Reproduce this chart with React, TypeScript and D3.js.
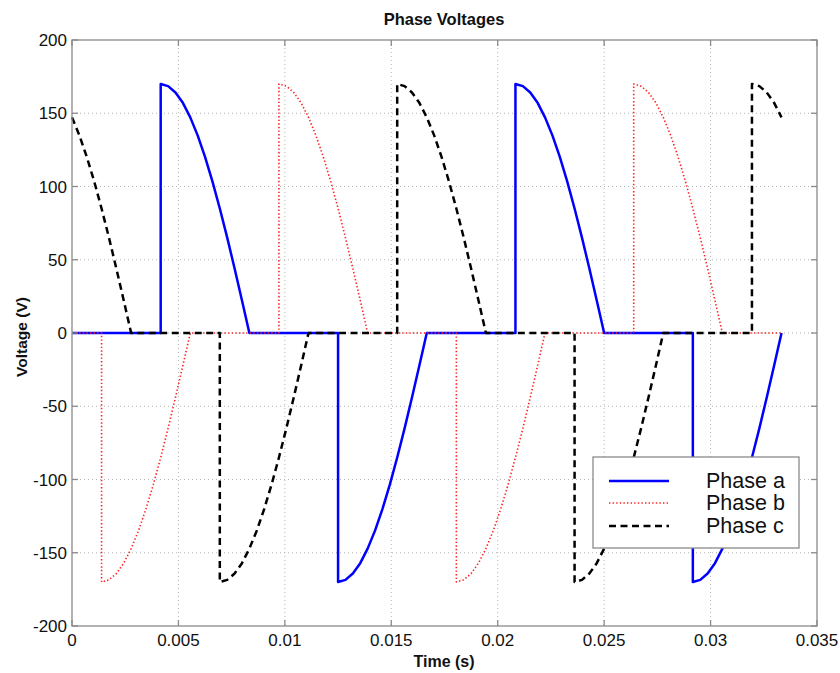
import React from "react";
import * as d3 from "d3";

// ---- data ----
const title = "Phase Voltages";
const xLabel = "Time (s)";
const yLabel = "Voltage (V)";
const xTicks = [0, 0.005, 0.01, 0.015, 0.02, 0.025, 0.03, 0.035];
const xTickLabels = ["0", "0.005", "0.01", "0.015", "0.02", "0.025", "0.03", "0.035"];
const yTicks = [200, 150, 100, 50, 0, -50, -100, -150, -200];
const seriesNames = ["Phase a", "Phase b", "Phase c"];

const phaseA_t = [
  0, 0.004167,
  0.004167, 0.004514, 0.004861, 0.005208, 0.005556, 0.005903, 0.00625, 0.006597, 0.006944, 0.007292, 0.007639, 0.007986, 0.008333,
  0.0125,
  0.0125, 0.012847, 0.013194, 0.013542, 0.013889, 0.014236, 0.014583, 0.014931, 0.015278, 0.015625, 0.015972, 0.016319, 0.016667,
  0.020833,
  0.020833, 0.021181, 0.021528, 0.021875, 0.022222, 0.022569, 0.022917, 0.023264, 0.023611, 0.023958, 0.024306, 0.024653, 0.025,
  0.029167,
  0.029167, 0.029514, 0.029861, 0.030208, 0.030556, 0.030903, 0.03125, 0.031597, 0.031944, 0.032292, 0.032639, 0.032986, 0.033333,
];
const phaseA_v = [
  0, 0,
  170, 168.5, 164.2, 157.1, 147.2, 134.9, 120.2, 103.5, 85.0, 65.1, 44.0, 22.2, 0,
  0,
  -170, -168.5, -164.2, -157.1, -147.2, -134.9, -120.2, -103.5, -85.0, -65.1, -44.0, -22.2, 0,
  0,
  170, 168.5, 164.2, 157.1, 147.2, 134.9, 120.2, 103.5, 85.0, 65.1, 44.0, 22.2, 0,
  0,
  -170, -168.5, -164.2, -157.1, -147.2, -134.9, -120.2, -103.5, -85.0, -65.1, -44.0, -22.2, 0,
];

const phaseB_t = [
  0, 0.001389,
  0.001389, 0.001736, 0.002083, 0.002431, 0.002778, 0.003125, 0.003472, 0.003819, 0.004167, 0.004514, 0.004861, 0.005208, 0.005556,
  0.009722,
  0.009722, 0.010069, 0.010417, 0.010764, 0.011111, 0.011458, 0.011806, 0.012153, 0.0125, 0.012847, 0.013194, 0.013542, 0.013889,
  0.018056,
  0.018056, 0.018403, 0.01875, 0.019097, 0.019444, 0.019792, 0.020139, 0.020486, 0.020833, 0.021181, 0.021528, 0.021875, 0.022222,
  0.026389,
  0.026389, 0.026736, 0.027083, 0.027431, 0.027778, 0.028125, 0.028472, 0.028819, 0.029167, 0.029514, 0.029861, 0.030208, 0.030556,
  0.033333,
];
const phaseB_v = [
  0, 0,
  -170, -168.5, -164.2, -157.1, -147.2, -134.9, -120.2, -103.5, -85.0, -65.1, -44.0, -22.2, 0,
  0,
  170, 168.5, 164.2, 157.1, 147.2, 134.9, 120.2, 103.5, 85.0, 65.1, 44.0, 22.2, 0,
  0,
  -170, -168.5, -164.2, -157.1, -147.2, -134.9, -120.2, -103.5, -85.0, -65.1, -44.0, -22.2, 0,
  0,
  170, 168.5, 164.2, 157.1, 147.2, 134.9, 120.2, 103.5, 85.0, 65.1, 44.0, 22.2, 0,
  0,
];

const phaseC_t = [
  0, 0.000347, 0.000694, 0.001042, 0.001389, 0.001736, 0.002083, 0.002431, 0.002778,
  0.006944,
  0.006944, 0.007292, 0.007639, 0.007986, 0.008333, 0.008681, 0.009028, 0.009375, 0.009722, 0.010069, 0.010417, 0.010764, 0.011111,
  0.015278,
  0.015278, 0.015625, 0.015972, 0.016319, 0.016667, 0.017014, 0.017361, 0.017708, 0.018056, 0.018403, 0.01875, 0.019097, 0.019444,
  0.023611,
  0.023611, 0.023958, 0.024306, 0.024653, 0.025, 0.025347, 0.025694, 0.026042, 0.026389, 0.026736, 0.027083, 0.027431, 0.027778,
  0.031944,
  0.031944, 0.032292, 0.032639, 0.032986, 0.033333,
];
const phaseC_v = [
  147.2, 134.9, 120.2, 103.5, 85.0, 65.1, 44.0, 22.2, 0,
  0,
  -170, -168.5, -164.2, -157.1, -147.2, -134.9, -120.2, -103.5, -85.0, -65.1, -44.0, -22.2, 0,
  0,
  170, 168.5, 164.2, 157.1, 147.2, 134.9, 120.2, 103.5, 85.0, 65.1, 44.0, 22.2, 0,
  0,
  -170, -168.5, -164.2, -157.1, -147.2, -134.9, -120.2, -103.5, -85.0, -65.1, -44.0, -22.2, 0,
  0,
  170, 168.5, 164.2, 157.1, 147.2,
];

// ---- layout ----
const W = 840;
const H = 673;
const L = 72;
const R = 817;
const T = 40;
const B = 626;
const FONT = "'Liberation Sans', Arial, Helvetica, sans-serif";

export default function App() {
  const x = d3.scaleLinear().domain([0, 0.035]).range([L, R]);
  const y = d3.scaleLinear().domain([-200, 200]).range([B, T]);

  const line = d3
    .line<[number, number]>()
    .x((d) => x(d[0]))
    .y((d) => y(d[1]))
    .curve(d3.curveLinear);

  const zip = (ts: number[], vs: number[]) =>
    ts.map((t, i) => [t, vs[i]] as [number, number]);

  const series = [
    { name: seriesNames[0], pts: zip(phaseA_t, phaseA_v), color: "#0000ff", width: 2.5, dash: undefined as string | undefined },
    { name: seriesNames[1], pts: zip(phaseB_t, phaseB_v), color: "#ff2020", width: 1.6, dash: "1.4,2.2" },
    { name: seriesNames[2], pts: zip(phaseC_t, phaseC_v), color: "#000000", width: 2.5, dash: "7,4.5" },
  ];

  const tickLen = 6;
  const axisColor = "#8a8a8a";
  const gridColor = "#b4b4b4";

  const legX = 593;
  const legY = 457;
  const legW = 206;
  const legH = 91;
  const rowY = [481, 503, 526];

  return (
    <svg
      width={W}
      height={H}
      style={{ position: "absolute", left: 0, top: 0, background: "#fff" }}
      fontFamily={FONT}
    >
      <rect x={0} y={0} width={W} height={H} fill="#fff" />
      {/* grid */}
      {xTicks.slice(1, -1).map((t) => (
        <line key={"gx" + t} x1={x(t)} x2={x(t)} y1={T} y2={B} stroke={gridColor} strokeWidth={1} strokeDasharray="1,3" />
      ))}
      {yTicks.slice(1, -1).map((v) => (
        <line key={"gy" + v} x1={L} x2={R} y1={y(v)} y2={y(v)} stroke={gridColor} strokeWidth={1} strokeDasharray="1,3" />
      ))}

      {/* series */}
      {series.map((s) => (
        <path
          key={s.name}
          d={line(s.pts) || ""}
          fill="none"
          stroke={s.color}
          strokeWidth={s.width}
          strokeDasharray={s.dash}
          strokeLinejoin="round"
        />
      ))}

      {/* axes box */}
      <rect x={L} y={T} width={R - L} height={B - T} fill="none" stroke={axisColor} strokeWidth={1.3} />
      {xTicks.map((t) => (
        <g key={"tx" + t}>
          <line x1={x(t)} x2={x(t)} y1={B} y2={B - tickLen} stroke={axisColor} strokeWidth={1.3} />
          <line x1={x(t)} x2={x(t)} y1={T} y2={T + tickLen} stroke={axisColor} strokeWidth={1.3} />
        </g>
      ))}
      {yTicks.map((v) => (
        <g key={"ty" + v}>
          <line x1={L} x2={L + tickLen} y1={y(v)} y2={y(v)} stroke={axisColor} strokeWidth={1.3} />
          <line x1={R} x2={R - tickLen} y1={y(v)} y2={y(v)} stroke={axisColor} strokeWidth={1.3} />
        </g>
      ))}

      {/* tick labels */}
      {xTicks.map((t, i) => (
        <text key={"lx" + t} x={x(t)} y={646} textAnchor="middle" fontSize={17} fill="#111">
          {xTickLabels[i]}
        </text>
      ))}
      {yTicks.map((v) => (
        <text key={"ly" + v} x={67} y={y(v) + 6} textAnchor="end" fontSize={17} fill="#111">
          {String(v)}
        </text>
      ))}

      {/* titles */}
      <text x={444} y={25} textAnchor="middle" fontSize={16.5} fontWeight="bold" fill="#111">
        {title}
      </text>
      <text x={444} y={667} textAnchor="middle" fontSize={16} fontWeight="bold" fill="#111">
        {xLabel}
      </text>
      <text
        transform={`translate(27,337) rotate(-90)`}
        textAnchor="middle"
        fontSize={15.5}
        fontWeight="bold"
        fill="#111"
      >
        {yLabel}
      </text>

      {/* legend */}
      <rect x={legX} y={legY} width={legW} height={legH} fill="#fff" stroke={axisColor} strokeWidth={1.3} />
      {series.map((s, i) => (
        <g key={"leg" + s.name}>
          <line
            x1={609}
            x2={669}
            y1={rowY[i]}
            y2={rowY[i]}
            stroke={s.color}
            strokeWidth={s.width}
            strokeDasharray={s.dash}
          />
          <text x={706} y={rowY[i] + 7} fontSize={21.5} fill="#111">
            {s.name}
          </text>
        </g>
      ))}
    </svg>
  );
}
